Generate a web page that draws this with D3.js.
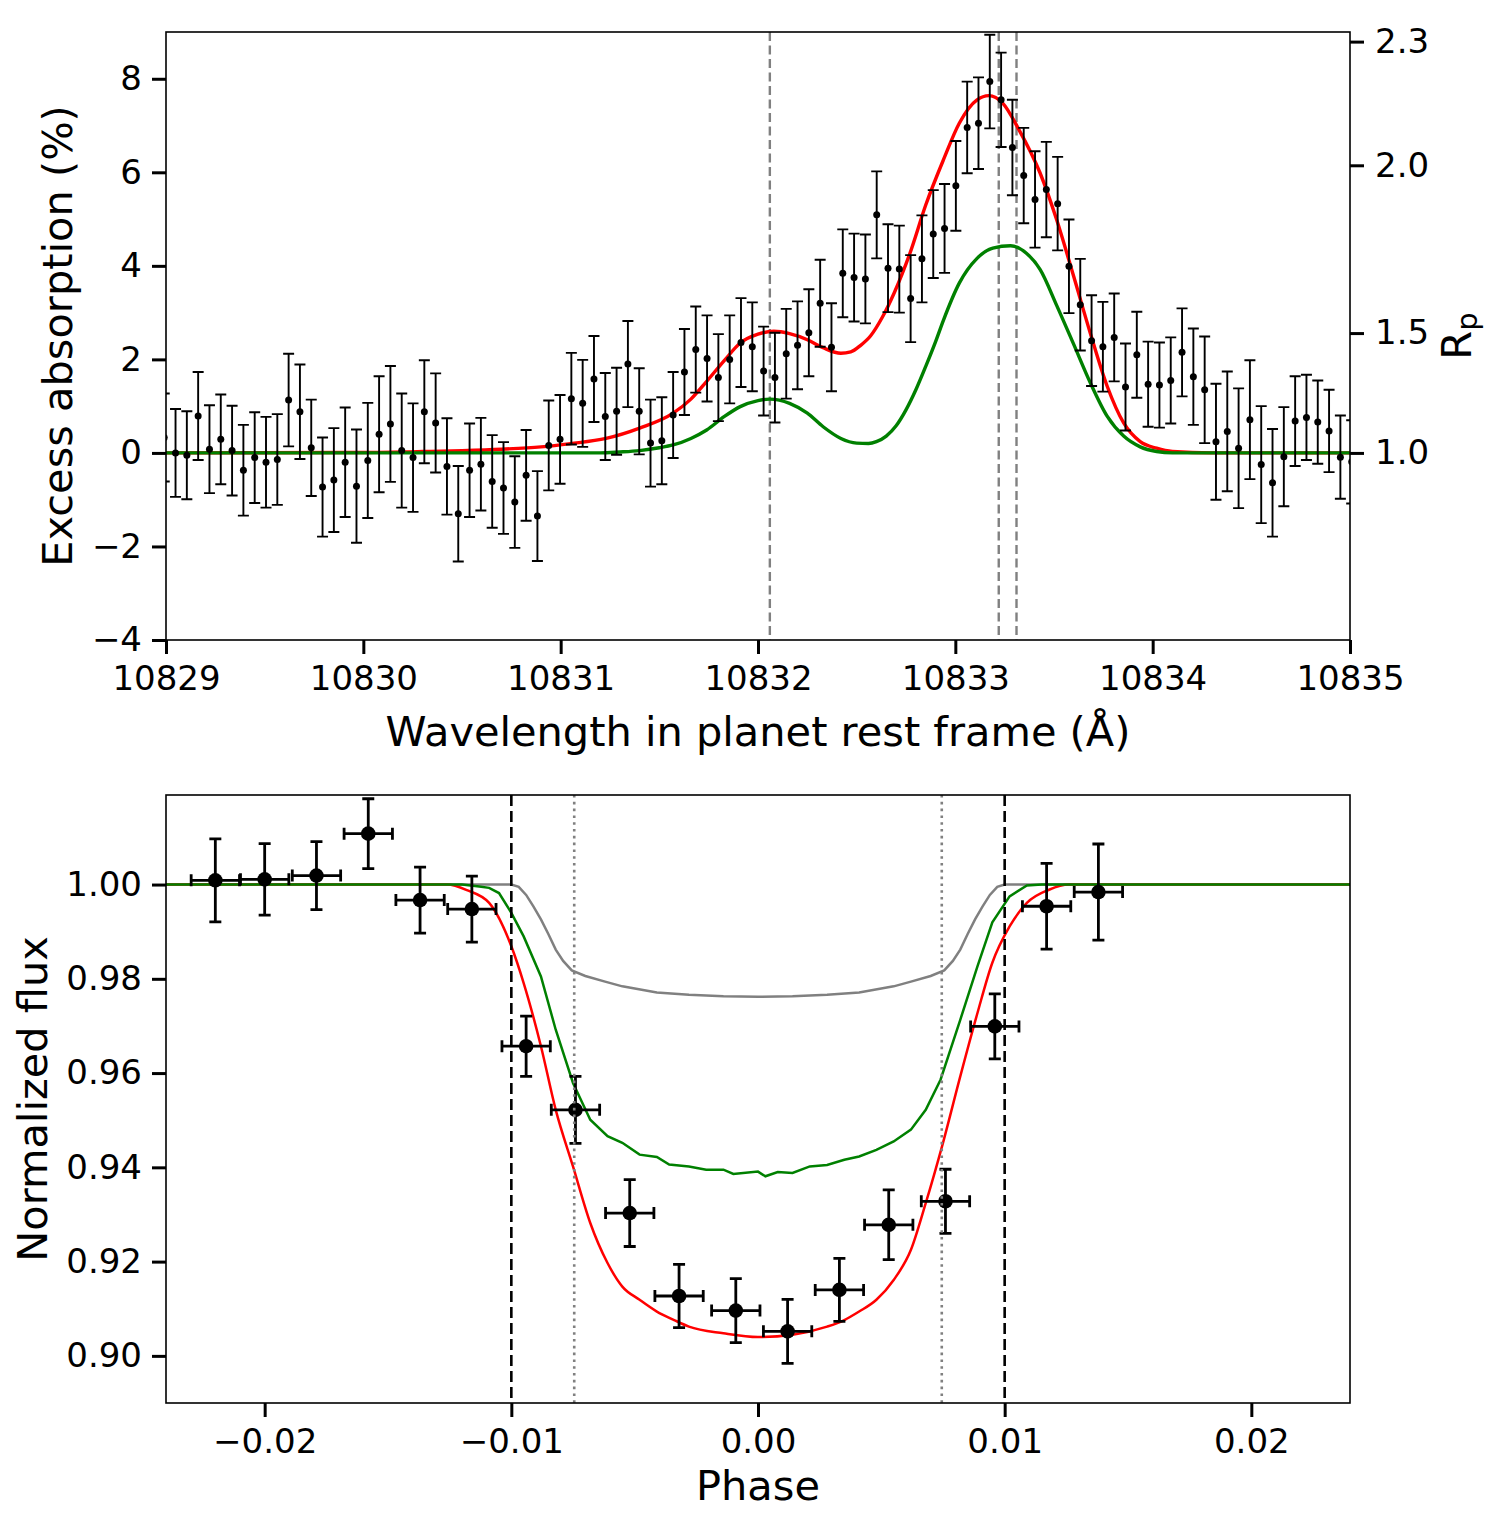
<!DOCTYPE html>
<html>
<head>
<meta charset="utf-8">
<script src="https://cdn.jsdelivr.net/npm/d3@7"></script>
<style>
  body { margin: 0; background: #fff; }
  svg { display: block; font-family: "DejaVu Sans", sans-serif; }
</style>
</head>
<body>
<svg id="chart" width="1500" height="1526"></svg>
<script>
// ---- top panel: excess absorption spectrum ----
// wavelength grid of the spectrum (evenly sampled bins)
const waveStart = 10828.991;
const waveStep = 0.05731;
const excess = [
  0.33, 0.00, -0.05, 0.79, 0.08, 0.29, 0.05, -0.37, -0.10, -0.20, -0.14,
  1.13, 0.88, 0.11, -0.73, -0.58, -0.20, -0.71, -0.16, 0.40, 0.62,
  0.05, -0.10, 0.88, 0.64, -0.29, -1.30, -0.37, -0.24, -0.61, -0.75,
  -1.05, -0.48, -1.35, 0.16, 0.29, 1.16, 1.06, 1.58, 0.78, 0.89,
  1.90, 0.89, 0.21, 0.26, 0.81, 1.73, 2.21, 2.02, 1.61, 2.00,
  2.36, 2.27, 1.75, 1.61, 2.12, 2.30, 2.57, 3.20, 2.26, 3.84,
  3.75, 3.72, 5.09, 3.95, 3.93, 3.30, 4.15, 4.68, 4.80, 5.71,
  6.96, 7.05, 7.94, 7.55, 6.53, 5.93, 5.42, 5.63, 5.33, 3.99,
  3.17, 2.40, 2.27, 2.47, 1.41, 2.10, 1.47, 1.45, 1.55, 2.15,
  1.63, 1.35, 0.24, 0.46, 0.10, 0.71, -0.25, -0.64, -0.08, 0.68,
  0.76, 0.66, 0.47, -0.09, -0.19
];
const excessErr = [
  0.94, 0.94, 0.94, 0.94, 0.94, 0.96, 0.96, 0.97, 0.97, 0.97, 0.97,
  0.99, 1.01, 1.03, 1.06, 1.11, 1.17, 1.21, 1.23, 1.24, 1.24,
  1.22, 1.16, 1.10, 1.06, 1.03, 1.02, 1.00, 0.99, 0.99, 0.98,
  0.98, 0.97, 0.96, 0.96, 0.95, 0.98, 0.93, 0.92, 0.93, 0.93,
  0.92, 0.92, 0.93, 0.93, 0.92, 0.92, 0.92, 0.92, 0.93, 0.94,
  0.95, 0.95, 0.95, 0.96, 0.96, 0.94, 0.93, 0.93, 0.94, 0.94,
  0.94, 0.95, 0.93, 0.94, 0.93, 0.93, 0.93, 0.94, 0.95, 0.96,
  0.98, 0.98, 1.00, 1.01, 1.02, 1.02, 1.03, 1.02, 1.00, 1.00,
  0.98, 0.97, 0.96, 0.94, 0.93, 0.92, 0.91, 0.91, 0.92, 0.94,
  1.03, 1.14, 1.24, 1.28, 1.28, 1.27, 1.25, 1.15, 1.06, 0.96,
  0.91, 0.89, 0.88, 0.89, 0.89
];
// model curves [wavelength, excess %]
const redSpecModel = [
  [10829.0, 0], [10830.0, 0.01], [10830.3, 0.03], [10830.5, 0.05], [10830.7, 0.08],
  [10830.9, 0.13], [10831.05, 0.20], [10831.23, 0.31], [10831.40, 0.53], [10831.57, 0.85],
  [10831.66, 1.15], [10831.74, 1.53], [10831.83, 1.98], [10831.91, 2.35], [10832.0, 2.54],
  [10832.08, 2.60], [10832.16, 2.55], [10832.25, 2.42], [10832.33, 2.25], [10832.42, 2.13],
  [10832.47, 2.16], [10832.52, 2.30], [10832.57, 2.50], [10832.63, 2.90], [10832.69, 3.42],
  [10832.77, 4.27], [10832.85, 5.30], [10832.94, 6.27], [10833.02, 7.05], [10833.11, 7.55],
  [10833.17, 7.64], [10833.24, 7.48], [10833.32, 6.93], [10833.43, 5.98], [10833.514, 4.98],
  [10833.60, 3.77], [10833.684, 2.56], [10833.77, 1.42], [10833.853, 0.64], [10833.937, 0.24],
  [10834.02, 0.10], [10834.10, 0.03], [10834.3, 0], [10835.0, 0]
];
const greenSpecModel = [
  [10829.0, 0], [10831.2, 0], [10831.3, 0.02], [10831.40, 0.05], [10831.50, 0.11],
  [10831.57, 0.17], [10831.66, 0.31], [10831.74, 0.49], [10831.83, 0.78], [10831.91, 0.99],
  [10832.0, 1.12], [10832.06, 1.15], [10832.16, 1.06], [10832.25, 0.85], [10832.33, 0.56],
  [10832.42, 0.31], [10832.50, 0.21], [10832.56, 0.20], [10832.60, 0.24], [10832.65, 0.36],
  [10832.70, 0.58], [10832.75, 0.92], [10832.80, 1.35], [10832.85, 1.85], [10832.90, 2.38],
  [10832.94, 2.84], [10833.02, 3.63], [10833.11, 4.16], [10833.19, 4.38], [10833.28, 4.43],
  [10833.36, 4.27], [10833.43, 3.92], [10833.514, 3.15], [10833.60, 2.32], [10833.684, 1.50],
  [10833.77, 0.78], [10833.853, 0.36], [10833.937, 0.13], [10834.02, 0.03], [10834.1, 0],
  [10835.0, 0]
];
const heLines = [10832.06, 10833.22, 10833.31];
const waveTicks = [10829, 10830, 10831, 10832, 10833, 10834, 10835];
const excessTicks = [-4, -2, 0, 2, 4, 6, 8];
const rpTicks = [1.0, 1.5, 2.0, 2.3];
const rpCoef = 2.05; // excess % = rpCoef * (Rp^2 - 1)

// ---- bottom panel: transit light curve ----
const phase = [-0.0220, -0.0200, -0.0179, -0.0158, -0.0137, -0.0116, -0.0094, -0.0074, -0.0052,
  -0.0032, -0.0009, 0.0012, 0.0033, 0.0053, 0.0076, 0.0096, 0.0117, 0.0138];
const phaseErr = [0.00098, 0.00098, 0.00098, 0.00098, 0.00098, 0.00098, 0.00098, 0.00098, 0.00098,
  0.00098, 0.00098, 0.00098, 0.00098, 0.00098, 0.00098, 0.00098, 0.00098, 0.00098];
const flux = [1.0009, 1.0011, 1.0019, 1.0108, 0.9967, 0.9948, 0.9657, 0.9522, 0.9303,
  0.9127, 0.9096, 0.9052, 0.9140, 0.9278, 0.9328, 0.9699, 0.9954, 0.9984];
const fluxErr = [0.0088, 0.0076, 0.0072, 0.0074, 0.0070, 0.0070, 0.0064, 0.0071, 0.0071,
  0.0067, 0.0068, 0.0068, 0.0067, 0.0074, 0.0068, 0.0069, 0.0091, 0.0102];
const grayLcModel = [
  [-0.024, 1.0], [-0.0100, 1.0], [-0.0097, 0.9995], [-0.0094, 0.9978], [-0.0091, 0.9953],
  [-0.0088, 0.9926], [-0.0085, 0.9895], [-0.0082, 0.9862], [-0.0079, 0.9838], [-0.00755, 0.9818],
  [-0.0070, 0.9806], [-0.0062, 0.9794], [-0.0055, 0.9784], [-0.0041, 0.9771], [-0.0028, 0.9766],
  [-0.0014, 0.9763], [0, 0.9762], [0.0014, 0.9763], [0.0028, 0.9766], [0.0041, 0.9771],
  [0.0055, 0.9784], [0.0062, 0.9794], [0.0070, 0.9806], [0.00755, 0.9818], [0.0079, 0.9838],
  [0.0082, 0.9862], [0.0085, 0.9895], [0.0088, 0.9926], [0.0091, 0.9953], [0.0094, 0.9978],
  [0.0097, 0.9995], [0.0100, 1.0], [0.024, 1.0]
];
const greenLcModel = [
  [-0.024, 1.0], [-0.0120, 1.0], [-0.0113, 0.9996], [-0.0109, 0.9993], [-0.0105, 0.9982],
  [-0.0100, 0.9940], [-0.0095, 0.9890], [-0.0088, 0.9805], [-0.0082, 0.9692], [-0.0075, 0.9579],
  [-0.0068, 0.9501], [-0.0061, 0.9466], [-0.0055, 0.9452], [-0.0048, 0.9427], [-0.0041, 0.9422],
  [-0.0036, 0.9406], [-0.0028, 0.9402], [-0.0021, 0.9395], [-0.0014, 0.9395], [-0.0010, 0.9386],
  [0.0000, 0.9391], [0.0003, 0.9381], [0.0008, 0.9390], [0.0014, 0.9388], [0.0021, 0.9402],
  [0.0028, 0.9405], [0.0035, 0.9416], [0.0041, 0.9423], [0.0048, 0.9437], [0.0055, 0.9455],
  [0.0062, 0.9480], [0.0068, 0.9522], [0.0074, 0.9586], [0.0082, 0.9713], [0.0089, 0.9827],
  [0.0095, 0.9920], [0.0102, 0.9975], [0.0109, 0.9998], [0.0115, 1.0], [0.024, 1.0]
];
const redLcModel = [
  [-0.024, 1.0], [-0.0126, 1.0], [-0.0118, 0.9988], [-0.0109, 0.9961], [-0.0100, 0.9869],
  [-0.0095, 0.9791], [-0.0088, 0.9657], [-0.0082, 0.9522], [-0.0075, 0.9402], [-0.0068, 0.9282],
  [-0.0061, 0.9197], [-0.0055, 0.9147], [-0.0048, 0.9119], [-0.0041, 0.9094], [-0.0034, 0.9076],
  [-0.0028, 0.9062], [-0.0014, 0.9048], [0.0000, 0.9040], [0.0014, 0.9045], [0.0028, 0.9062],
  [0.0035, 0.9076], [0.0041, 0.9094], [0.0048, 0.9119], [0.0055, 0.9161], [0.0062, 0.9225],
  [0.0068, 0.9324], [0.0075, 0.9452], [0.0082, 0.9593], [0.0089, 0.9728], [0.0095, 0.9834],
  [0.0102, 0.9911], [0.0109, 0.9961], [0.0118, 0.9989], [0.0126, 1.0], [0.024, 1.0]
];
const outerContacts = [-0.0100, 0.0100];
const innerContacts = [-0.00745, 0.00745];
const phaseTicks = [-0.02, -0.01, 0.00, 0.01, 0.02];
const fluxTicks = [0.90, 0.92, 0.94, 0.96, 0.98, 1.00];

const svg = d3.select('#chart');
svg.append('rect').attr('width', 1500).attr('height', 1526).attr('fill', '#fff');

const tickFont = 34;
const labelFont = 41.5;

const styleAxis = (g) => {
  g.select('.domain').remove();
  g.selectAll('.tick line').attr('stroke', '#000').attr('stroke-width', 3);
  g.selectAll('.tick text').attr('fill', '#000').style('font-size', tickFont + 'px')
    .style('font-family', '"DejaVu Sans", sans-serif');
};

// ================= top panel =================
const topBox = {left: 166, right: 1350, top: 32, bottom: 640};
const x1 = d3.scaleLinear().domain([10829, 10835]).range([topBox.left, topBox.right]);
const y1 = d3.scaleLinear().domain([-4, 9]).range([topBox.bottom, topBox.top]);
const rpScale = d3.scalePow().exponent(2).domain([1, 2]).range([y1(0), y1(3 * rpCoef)]);

svg.append('clipPath').attr('id', 'clipTop').append('rect')
  .attr('x', topBox.left).attr('y', topBox.top)
  .attr('width', topBox.right - topBox.left).attr('height', topBox.bottom - topBox.top);

const topPlot = svg.append('g').attr('clip-path', 'url(#clipTop)');

topPlot.selectAll('line.he')
  .data(heLines)
  .join('line')
  .attr('class', 'he')
  .attr('x1', d => x1(d)).attr('x2', d => x1(d))
  .attr('y1', topBox.top).attr('y2', topBox.bottom)
  .attr('stroke', '#808080').attr('stroke-width', 2.4).attr('stroke-dasharray', '9,4.5');

const specLine = d3.line().x(d => x1(d[0])).y(d => y1(d[1])).curve(d3.curveMonotoneX);
topPlot.append('path').datum(redSpecModel).attr('d', specLine)
  .attr('fill', 'none').attr('stroke', '#ff0000').attr('stroke-width', 3.4);
topPlot.append('path').datum(greenSpecModel).attr('d', specLine)
  .attr('fill', 'none').attr('stroke', '#008000').attr('stroke-width', 3.4);

const specPoints = excess.map((v, i) => ({w: waveStart + i * waveStep, v: v, e: excessErr[i]}));
const specEb = topPlot.append('g').attr('stroke', '#000').attr('stroke-width', 1.9);
specEb.selectAll('path')
  .data(specPoints)
  .join('path')
  .attr('fill', 'none')
  .attr('d', d => {
    const cx = x1(d.w), lo = y1(d.v - d.e), hi = y1(d.v + d.e);
    return `M${cx},${lo}V${hi}M${cx - 5.5},${lo}H${cx + 5.5}M${cx - 5.5},${hi}H${cx + 5.5}`;
  });
topPlot.append('g').selectAll('circle')
  .data(specPoints)
  .join('circle')
  .attr('cx', d => x1(d.w)).attr('cy', d => y1(d.v)).attr('r', 3.5).attr('fill', '#000');

// spines
svg.append('rect')
  .attr('x', topBox.left).attr('y', topBox.top)
  .attr('width', topBox.right - topBox.left).attr('height', topBox.bottom - topBox.top)
  .attr('fill', 'none').attr('stroke', '#000').attr('stroke-width', 1.6);

svg.append('g')
  .attr('transform', `translate(0,${topBox.bottom})`)
  .call(d3.axisBottom(x1).tickValues(waveTicks).tickFormat(d3.format('d')).tickSize(14).tickPadding(12))
  .call(styleAxis);
svg.append('g')
  .attr('transform', `translate(${topBox.left},0)`)
  .call(d3.axisLeft(y1).tickValues(excessTicks).tickFormat(d3.format('d')).tickSize(14).tickPadding(10))
  .call(styleAxis);
svg.append('g')
  .attr('transform', `translate(${topBox.right},0)`)
  .call(d3.axisRight(rpScale).tickValues(rpTicks).tickFormat(d3.format('.1f')).tickSize(14).tickPadding(11))
  .call(styleAxis);

svg.append('text')
  .attr('x', (topBox.left + topBox.right) / 2).attr('y', 746)
  .attr('text-anchor', 'middle').style('font-size', labelFont + 'px')
  .text('Wavelength in planet rest frame (Å)');
svg.append('text')
  .attr('transform', `translate(72,${(topBox.top + topBox.bottom) / 2}) rotate(-90)`)
  .attr('text-anchor', 'middle').style('font-size', labelFont + 'px')
  .text('Excess absorption (%)');
const rpLab = svg.append('text')
  .attr('transform', `translate(1471,${(topBox.top + topBox.bottom) / 2}) rotate(-90)`)
  .attr('text-anchor', 'middle').style('font-size', labelFont + 'px');
rpLab.append('tspan').text('R');
rpLab.append('tspan').attr('baseline-shift', '-22%').style('font-size', '29px').text('p');

// ================= bottom panel =================
const botBox = {left: 166, right: 1350, top: 795, bottom: 1403};
const x2 = d3.scaleLinear().domain([-0.024, 0.024]).range([botBox.left, botBox.right]);
const y2 = d3.scaleLinear().domain([0.89, 1.019]).range([botBox.bottom, botBox.top]);

svg.append('clipPath').attr('id', 'clipBot').append('rect')
  .attr('x', botBox.left).attr('y', botBox.top)
  .attr('width', botBox.right - botBox.left).attr('height', botBox.bottom - botBox.top);
const botPlot = svg.append('g').attr('clip-path', 'url(#clipBot)');

const lcLine = d3.line().x(d => x2(d[0])).y(d => y2(d[1]));
botPlot.append('path').datum(grayLcModel).attr('d', lcLine.curve(d3.curveLinear))
  .attr('fill', 'none').attr('stroke', '#808080').attr('stroke-width', 2.5);
botPlot.append('path').datum(redLcModel).attr('d', lcLine.curve(d3.curveMonotoneX))
  .attr('fill', 'none').attr('stroke', '#ff0000').attr('stroke-width', 2.5);
botPlot.append('path').datum(greenLcModel).attr('d', lcLine.curve(d3.curveLinear))
  .attr('fill', 'none').attr('stroke', '#008000').attr('stroke-width', 2.5);

const lcPoints = phase.map((p, i) => ({p: p, pe: phaseErr[i], f: flux[i], fe: fluxErr[i]}));
botPlot.append('g').attr('stroke', '#000').attr('stroke-width', 2.8)
  .selectAll('path')
  .data(lcPoints)
  .join('path')
  .attr('fill', 'none')
  .attr('d', d => {
    const cx = x2(d.p), cy = y2(d.f);
    const lo = y2(d.f - d.fe), hi = y2(d.f + d.fe);
    const l = x2(d.p - d.pe), r = x2(d.p + d.pe);
    return `M${cx},${lo}V${hi}M${cx - 6},${lo}H${cx + 6}M${cx - 6},${hi}H${cx + 6}` +
      `M${l},${cy}H${r}M${l},${cy - 6}V${cy + 6}M${r},${cy - 6}V${cy + 6}`;
  });
botPlot.append('g').selectAll('circle')
  .data(lcPoints)
  .join('circle')
  .attr('cx', d => x2(d.p)).attr('cy', d => y2(d.f)).attr('r', 7.3).attr('fill', '#000');

botPlot.selectAll('line.outer')
  .data(outerContacts)
  .join('line')
  .attr('class', 'outer')
  .attr('x1', d => x2(d)).attr('x2', d => x2(d))
  .attr('y1', botBox.top).attr('y2', botBox.bottom)
  .attr('stroke', '#000').attr('stroke-width', 2.6).attr('stroke-dasharray', '11,5');
botPlot.selectAll('line.inner')
  .data(innerContacts)
  .join('line')
  .attr('class', 'inner')
  .attr('x1', d => x2(d)).attr('x2', d => x2(d))
  .attr('y1', botBox.top).attr('y2', botBox.bottom)
  .attr('stroke', '#808080').attr('stroke-width', 2.6).attr('stroke-dasharray', '2.6,4.2');

svg.append('rect')
  .attr('x', botBox.left).attr('y', botBox.top)
  .attr('width', botBox.right - botBox.left).attr('height', botBox.bottom - botBox.top)
  .attr('fill', 'none').attr('stroke', '#000').attr('stroke-width', 1.6);

svg.append('g')
  .attr('transform', `translate(0,${botBox.bottom})`)
  .call(d3.axisBottom(x2).tickValues(phaseTicks).tickFormat(d3.format('.2f')).tickSize(14).tickPadding(12))
  .call(styleAxis);
svg.append('g')
  .attr('transform', `translate(${botBox.left},0)`)
  .call(d3.axisLeft(y2).tickValues(fluxTicks).tickFormat(d3.format('.2f')).tickSize(14).tickPadding(10))
  .call(styleAxis);

svg.append('text')
  .attr('x', (botBox.left + botBox.right) / 2).attr('y', 1500)
  .attr('text-anchor', 'middle').style('font-size', labelFont + 'px')
  .text('Phase');
svg.append('text')
  .attr('transform', `translate(47,${(botBox.top + botBox.bottom) / 2}) rotate(-90)`)
  .attr('text-anchor', 'middle').style('font-size', labelFont + 'px')
  .text('Normalized flux');
</script>
</body>
</html>
